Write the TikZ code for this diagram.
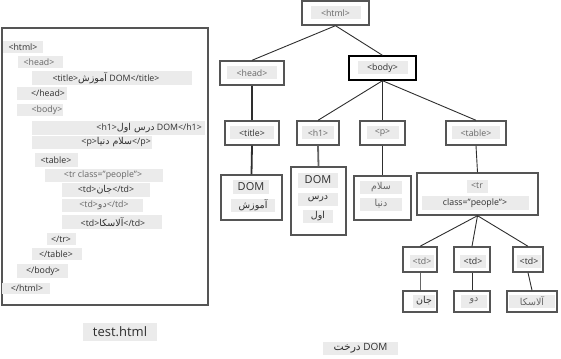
\documentclass[tikz,border=0pt]{standalone}
\usepackage{fontspec}
\setmainfont{Open Sans}
\newfontfamily\arabicfont[Script=Arabic,Scale=1.08]{DejaVu Sans}
\TeXXeTstate=1
\newcommand\fa[1]{{\arabicfont\beginR #1\endR}}
\definecolor{lbg}{HTML}{EBEBEB}
\definecolor{bd}{HTML}{555555}
\definecolor{tx}{HTML}{2E2E2E}
\definecolor{tl}{HTML}{666666}
\begin{document}
\begin{tikzpicture}[x=1pt,y=-1pt,
  codebg/.style={fill=lbg},
  codetxt/.style={inner sep=0pt, text=tx, font=\fontsize{8.8}{10}\selectfont},
  codelt/.style={codetxt, text=tl},
  frame/.style={draw=bd, line width=1.3pt},
  tbox/.style={draw=bd, line width=1.4pt, fill=white, inner sep=0pt},
  tlab/.style={fill=lbg, inner sep=0pt, text=tl, font=\fontsize{8.8}{10}\selectfont, minimum height=13pt},
  tlabd/.style={tlab, text=tx},
  conn/.style={draw=tx, line width=0.9pt},
  thick conn/.style={draw=tx, line width=1.8pt},
  caption/.style={fill=lbg, inner sep=0pt, text=tx}
]
\useasboundingbox (0,0) rectangle (561,358);

% ---------- left: source code ----------
\draw[frame] (2,28) rectangle (208,305);
\fill[codebg] (3,41) rectangle (43,53);
\node[codetxt] (c1) at (23,47) {<html>};
\fill[codebg] (18,56) rectangle (63,68);
\node[codelt] (c2) at (39,62) {<head>};
\fill[codebg] (32,71) rectangle (192,85);
\node[codetxt] (c3) at (106,78) {<title>\fa{آموزش} DOM</title>};
\fill[codebg] (17,87) rectangle (67,100);
\node[codetxt] (c4) at (48,93.5) {</head>};
\fill[codebg] (17,104) rectangle (63,116);
\node[codelt] (c5) at (47,110) {<body>};
\fill[codebg] (32,121) rectangle (205,135);
\node[codetxt, anchor=east] (c6) at (202,128) {<h1>\fa{درس اول} DOM</h1>};
\fill[codebg] (32,136) rectangle (152,149);
\node[codetxt, anchor=east] (c7) at (151,142.5) {<p>\fa{سلام دنیا}</p>};
\fill[codebg] (35,153) rectangle (78,167);
\node[codetxt] (c8) at (56,160) {<table>};
\fill[codebg] (45,169) rectangle (163,182);
\node[codelt] (c9) at (103,175.5) {<tr class="people">};
\fill[codebg] (62,183) rectangle (150,197);
\node[codetxt] (c10) at (106,190) {<td>\fa{جان}</td>};
\fill[codebg] (62,199) rectangle (143,212);
\node[codelt] (c11) at (104,205.5) {<td>\fa{دو}</td>};
\fill[codebg] (62,215) rectangle (162,229);
\node[codetxt] (c12) at (113,222) {<td>\fa{آلاسکا}</td>};
\fill[codebg] (47,233) rectangle (76,245);
\node[codetxt] (c13) at (61,239) {</tr>};
\fill[codebg] (32,248) rectangle (82,260);
\node[codetxt] (c14) at (56,254) {</table>};
\fill[codebg] (17,264) rectangle (68,278);
\node[codetxt] (c15) at (43,271) {</body>};
\fill[codebg] (2,283) rectangle (50,294);
\node[codetxt] (c16) at (27,288.5) {</html>};

\node[caption, minimum width=74pt, minimum height=18pt, font=\fontsize{13}{15}\selectfont] (cap1) at (120,332) {test.html};

% ---------- right: DOM tree ----------
\node[tbox, minimum width=67pt, minimum height=24pt] (html) at (335.5,13) {};
\node[tlab, minimum width=50pt] (lhtml) at (html) {<html>};
\node[tbox, minimum width=64pt, minimum height=24pt] (head) at (252,73) {};
\node[tlab, minimum width=50pt] (lhead) at (head) {<head>};
\node[tbox, minimum width=67pt, minimum height=24pt, draw=black] (body) at (382.5,68) {};
\node[tlab, minimum width=50pt, text=tx] (lbody) at (body) {<body>};

\node[tbox, minimum width=54pt, minimum height=24pt] (title) at (252,133) {};
\node[tlabd, minimum width=44pt] (ltitle) at (title) {<title>};
\node[tbox, minimum width=42pt, minimum height=24pt] (h1) at (318,133) {};
\node[tlab, minimum width=32pt] (lh1) at (h1) {<h1>};
\node[tbox, minimum width=45pt, minimum height=24pt] (p) at (382.5,133) {};
\node[tlab, minimum width=32pt] (lp) at (p) {<p>};
\node[tbox, minimum width=60pt, minimum height=24pt] (table) at (476,133) {};
\node[tlab, minimum width=48pt] (ltable) at (table) {<table>};

\node[tbox, minimum width=61pt, minimum height=45pt] (ttext) at (251.5,197.5) {};
\node[tlabd, minimum width=36pt, minimum height=14pt, font=\fontsize{11}{12}\selectfont] (lt1) at (251,187) {DOM};
\node[tlabd, minimum width=44pt] (lt2) at (253,205) {\fa{آموزش}};
\node[tbox, minimum width=55pt, minimum height=68pt] (htext) at (318.5,201) {};
\node[tlabd, minimum width=40pt, minimum height=15pt, font=\fontsize{11}{12}\selectfont] (lh1a) at (318,180) {DOM};
\node[tlabd, minimum width=40pt] (lh1b) at (318,199) {\fa{درس}};
\node[tlabd, minimum width=30pt] (lh1c) at (318,216) {\fa{اول}};
\node[tbox, minimum width=57pt, minimum height=44pt] (ptext) at (382.5,198) {};
\node[tlab, minimum width=42pt] (lpa) at (381,187) {\fa{سلام}};
\node[tlab, minimum width=42pt] (lpb) at (381,204) {\fa{دنیا}};
\node[tbox, minimum width=121pt, minimum height=42pt] (tr) at (477.5,194) {};
\node[tlab, minimum width=21pt] (ltra) at (477,186) {<tr};
\node[tlabd, minimum width=107pt, minimum height=14pt] (ltrb) at (475,203) {class="people">};

\node[tbox, minimum width=34pt, minimum height=25pt] (td1) at (420,259.5) {};
\node[tlab, minimum width=24pt] (ltd1) at (422,261) {<td>};
\node[tbox, minimum width=36pt, minimum height=25pt] (td2) at (472,259.5) {};
\node[tlabd, minimum width=26pt] (ltd2) at (473,261) {<td>};
\node[tbox, minimum width=30pt, minimum height=25pt] (td3) at (528,259.5) {};
\node[tlabd, minimum width=24pt] (ltd3) at (529,261) {<td>};

\node[tbox, minimum width=34pt, minimum height=21pt] (lf1) at (420,301.5) {};
\node[tlabd, minimum width=22pt] (llf1) at (424,301) {\fa{جان}};
\node[tbox, minimum width=36pt, minimum height=21pt] (lf2) at (472,301.5) {};
\node[tlab, minimum width=26pt] (llf2) at (474,301) {\fa{دو}};
\node[tbox, minimum width=50pt, minimum height=21pt] (lf3) at (532,301.5) {};
\node[tlab, minimum width=46pt] (llf3) at (532,301) {\fa{آلاسکا}};

\node[caption, minimum width=75pt, minimum height=13pt, font=\fontsize{10}{12}\selectfont] (cap2) at (360.5,348.5) {\fa{درخت} DOM};

% connectors
\draw[conn] (html.south) -- (head.north);
\draw[conn] (html.south) -- (body.north);
\draw[thick conn] (head.south) -- (title.north);
\draw[conn] (body.south) -- (h1.north);
\draw[conn] (body.south) -- (p.north);
\draw[conn] (body.south) -- (table.north);
\draw[thick conn] (title.south) -- (ttext.north);
\draw[thick conn, draw=tl] (h1.south) -- (htext.north);
\draw[conn] (p.south) -- (ptext.north);
\draw[conn] (table.south) -- (tr.north);
\draw[conn] (tr.south) -- (td1.north);
\draw[conn] (tr.south) -- (td2.north);
\draw[conn] (tr.south) -- (td3.north);
\draw[conn, draw=tl] (td1.south) -- (lf1.north);
\draw[conn] (td2.south) -- (lf2.north);
\draw[conn] (td3.south) -- (lf3.north);
\end{tikzpicture}
\end{document}
